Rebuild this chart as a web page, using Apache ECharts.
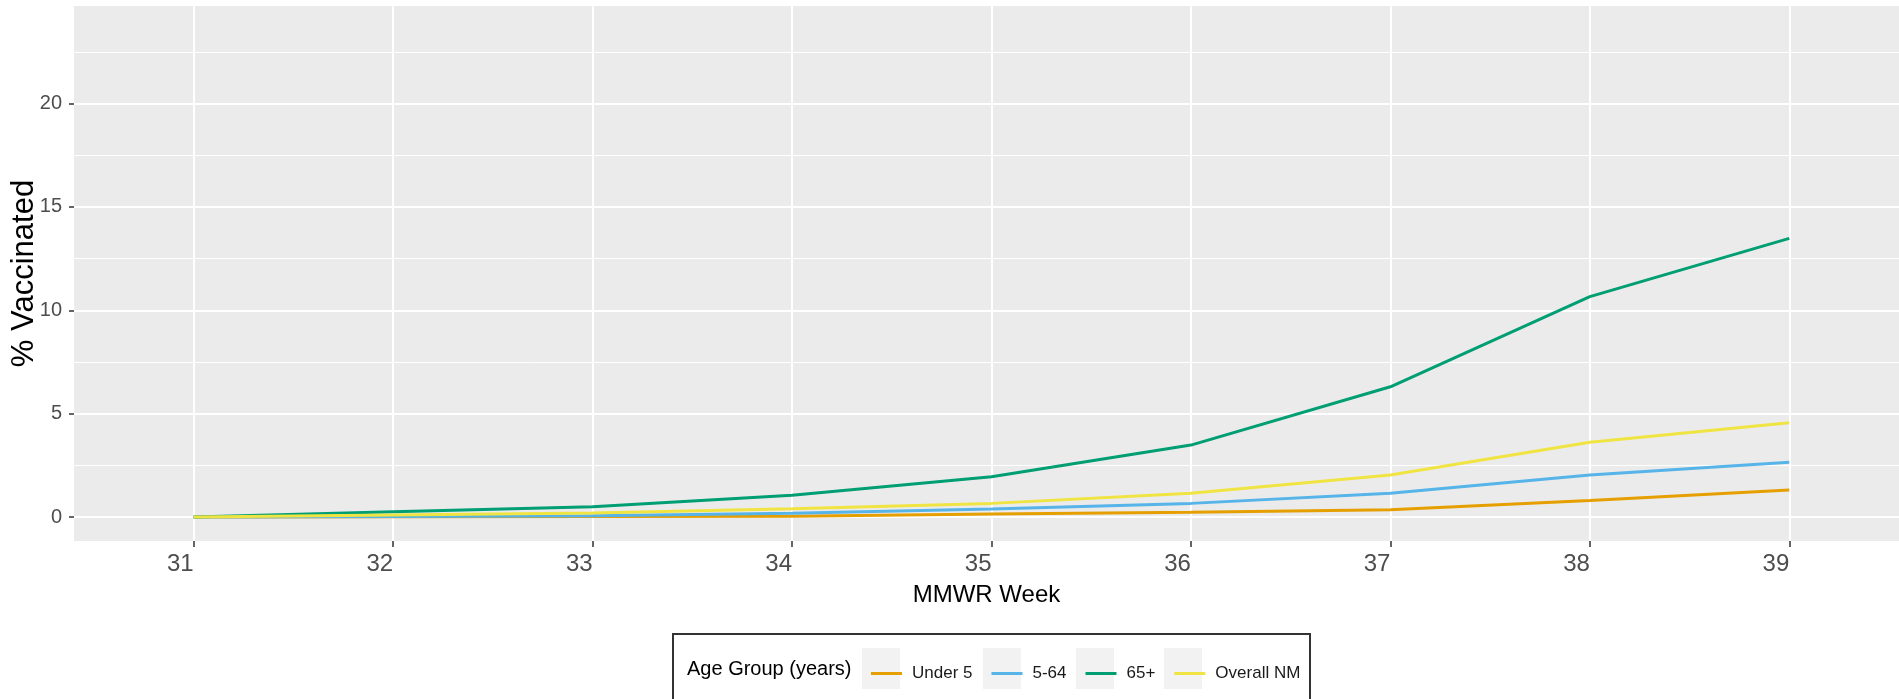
<!DOCTYPE html>
<html>
<head>
<meta charset="utf-8">
<script src="https://cdn.jsdelivr.net/npm/echarts@6/dist/echarts.min.js"></script>
<style>
  html, body { margin: 0; padding: 0; background: #fff; }
  #chart { width: 1899px; height: 699px; }
</style>
</head>
<body>
<div id="chart"></div>
<script>
// MMWR weeks and % vaccinated per age group
var weeks = [31, 32, 33, 34, 35, 36, 37, 38, 39];
var under5 = [0, 0.01, 0.02, 0.04, 0.15, 0.23, 0.35, 0.8, 1.31];
var age5to64 = [0, 0.03, 0.06, 0.18, 0.39, 0.66, 1.15, 2.03, 2.65];
var age65plus = [0, 0.25, 0.5, 1.05, 1.95, 3.48, 6.3, 10.66, 13.48];
var overallNM = [0, 0.1, 0.2, 0.4, 0.66, 1.15, 2.03, 3.62, 4.56];

var seriesNames = ["Under 5", "5-64", "65+", "Overall NM"];
var seriesColors = ["#E69F00", "#56B4E9", "#009E73", "#F0E442"];
var seriesData = [under5, age5to64, age65plus, overallNM];

var yMajor = [0, 5, 10, 15, 20];
var yMinor = [2.5, 7.5, 12.5, 17.5, 22.5];

var font = "'Liberation Sans', Arial, sans-serif";

function pairs(vals) {
  return weeks.map(function (w, i) { return [w, vals[i]]; });
}

var chart = echarts.init(document.getElementById("chart"));

var series = seriesNames.map(function (name, i) {
  return {
    name: name,
    type: "line",
    data: pairs(seriesData[i]),
    symbol: "none",
    lineStyle: { width: 3, color: seriesColors[i] },
    itemStyle: { color: seriesColors[i] },
    z: 3 + i
  };
});

chart.setOption({
  animation: false,
  textStyle: { fontFamily: font },
  grid: {
    left: 74,
    right: 0,
    top: 6,
    bottom: 158,
    outerBoundsMode: "none",
    containLabel: false,
    show: true,
    backgroundColor: "#EBEBEB",
    borderWidth: 0
  },
  xAxis: {
    type: "value",
    min: 30.4,
    max: 39.55,
    name: "MMWR Week",
    nameLocation: "middle",
    nameGap: 42,
    nameMoveOverlap: false,
    nameTextStyle: { fontSize: 24, color: "#000", fontFamily: font },
    axisLine: { show: false, onZero: false },
    axisTick: {
      show: true,
      length: 6,
      customValues: weeks,
      lineStyle: { color: "#333", width: 1.5 }
    },
    axisLabel: {
      customValues: weeks,
      fontSize: 24,
      color: "#4D4D4D",
      align: "right",
      margin: 11,
      fontFamily: font
    },
    splitLine: { show: true, lineStyle: { color: "#fff", width: 2 } }
  },
  yAxis: [
    {
      type: "value",
      min: -1.16,
      max: 24.72,
      name: "% Vaccinated",
      nameLocation: "middle",
      nameGap: 34,
      nameMoveOverlap: false,
      nameTextStyle: { fontSize: 31, color: "#000", fontFamily: font },
      axisLine: { show: false, onZero: false },
      axisTick: {
        show: true,
        length: 5,
        customValues: yMajor,
        lineStyle: { color: "#333", width: 1.5 }
      },
      axisLabel: {
        customValues: yMajor,
        fontSize: 20,
        color: "#4D4D4D",
        margin: 12,
        fontFamily: font
      },
      splitLine: { show: true, lineStyle: { color: "#fff", width: 2 } }
    },
    {
      type: "value",
      min: -1.16,
      max: 24.72,
      position: "left",
      axisLine: { show: false, onZero: false },
      axisTick: { show: false, customValues: yMinor },
      axisLabel: { show: false, customValues: yMinor },
      splitLine: { show: true, lineStyle: { color: "#fff", width: 1 } }
    }
  ],
  legend: {
    left: 862,
    top: 648,
    orient: "horizontal",
    itemWidth: 38,
    itemHeight: 41,
    itemGap: 15,
    icon: "path://M0,0M38,41M4,19L35,19L35,22L4,22Z",
    data: seriesNames,
    textStyle: { fontSize: 17, color: "#1A1A1A", padding: [0, 0, 0, 2], fontFamily: font },
    z: 10
  },
  graphic: [
    {
      type: "rect",
      z: 1,
      shape: { x: 673, y: 634, width: 637, height: 90 },
      style: { fill: "#fff", stroke: "#333", lineWidth: 2 }
    },
    {
      type: "text",
      z: 2,
      style: {
        x: 687, y: 669, text: "Age Group (years)",
        font: "20px " + font, fill: "#000", textVerticalAlign: "middle"
      }
    },
    { type: "rect", z: 2, shape: { x: 862, y: 648, width: 38, height: 41 }, style: { fill: "#F2F2F2" } },
    { type: "rect", z: 2, shape: { x: 983, y: 648, width: 38, height: 41 }, style: { fill: "#F2F2F2" } },
    { type: "rect", z: 2, shape: { x: 1076, y: 648, width: 38, height: 41 }, style: { fill: "#F2F2F2" } },
    { type: "rect", z: 2, shape: { x: 1164, y: 648, width: 38, height: 41 }, style: { fill: "#F2F2F2" } }
  ],
  series: series
});
</script>
</body>
</html>
